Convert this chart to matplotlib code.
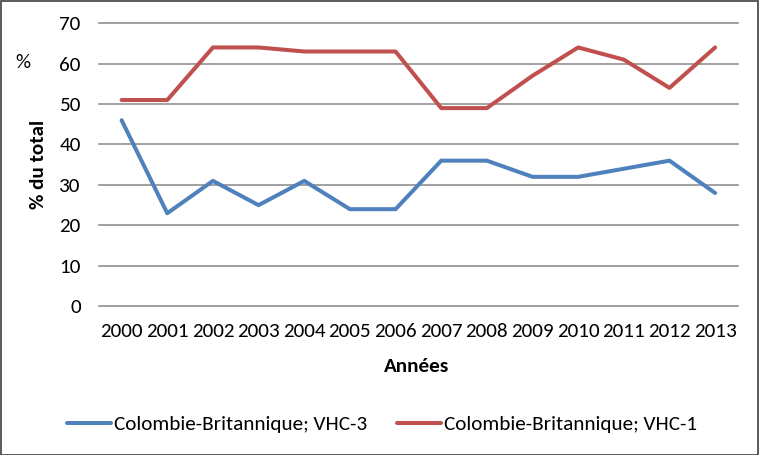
import numpy as np
import matplotlib.pyplot as plt
from matplotlib import font_manager
from matplotlib.patches import Rectangle

annees = ['2000', '2001', '2002', '2003', '2004', '2005', '2006',
          '2007', '2008', '2009', '2010', '2011', '2012', '2013']
vhc3 = [46, 23, 31, 25, 31, 24, 24, 36, 36, 32, 32, 34, 36, 28]
vhc1 = [51, 51, 64, 64, 63, 63, 63, 49, 49, 57, 64, 61, 54, 64]

# Calibri-like font if we have one
installed = {f.name for f in font_manager.fontManager.ttflist}
fam, fs = 'Lato', 13
for name, size in [('Carlito', 15.2), ('Liberation Sans Narrow', 15.5), ('Lato', 13)]:
    if name in installed:
        fam, fs = name, size
        break
plt.rcParams['font.family'] = [fam, 'DejaVu Sans']

fig = plt.figure(figsize=(7.6, 4.55), dpi=100)
ax = fig.add_axes([0.130, 0.327, 0.841, 0.622])

x = np.arange(len(annees))
l3, = ax.plot(x, vhc3, color='#4F81BD', linewidth=2.9, solid_capstyle='round',
              label='Colombie-Britannique; VHC-3')
l1, = ax.plot(x, vhc1, color='#C0504D', linewidth=2.9, solid_capstyle='round',
              label='Colombie-Britannique; VHC-1')

ax.set_xlim(-0.5, len(annees) - 0.5)
ax.set_ylim(0, 70)
ax.set_yticks(range(0, 71, 10))
ax.set_xticks(x)
ax.set_xticklabels(annees)
ax.tick_params(axis='both', length=0, labelsize=fs)
ax.tick_params(axis='y', pad=13)
ax.tick_params(axis='x', pad=12)
ax.grid(axis='y', color='#868686', linewidth=1.1)
for gl in ax.get_ygridlines():
    gl.set_clip_on(False)
ax.set_axisbelow(True)
for s in ax.spines.values():
    s.set_visible(False)

fig.text(38 / 760, 1 - 164 / 455, '% du total', rotation=90, ha='center', va='center',
         fontsize=fs, fontweight='bold')
fig.text(23 / 760, 1 - 63 / 455, '%', ha='center', va='center', fontsize=fs)
fig.text(417 / 760, 1 - 366 / 455, 'Années', ha='center', va='center',
         fontsize=fs, fontweight='bold')

fig.legend(handles=[l3, l1], loc='center', bbox_to_anchor=(382 / 760, 1 - 424 / 455),
           ncol=2, frameon=False, fontsize=fs, handlelength=2.1, handletextpad=0.15,
           columnspacing=1.4)

fig.patches.append(Rectangle((0.001, 0.001), 0.997, 0.997, transform=fig.transFigure,
                             fill=False, edgecolor='#404040', linewidth=1.2))

fig.savefig('out.png', dpi=100)
